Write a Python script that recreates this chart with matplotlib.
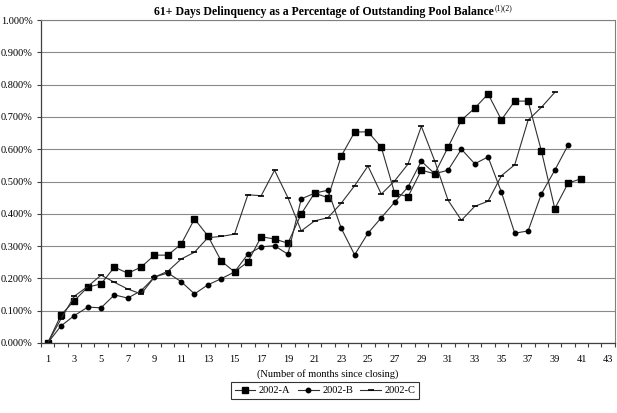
import matplotlib.pyplot as plt
import numpy as np

plt.rcParams['font.family'] = ['Liberation Serif', 'DejaVu Serif']

# 61+ day delinquency, % of outstanding pool balance, by month since closing
a_vals = [0.000, 0.087, 0.131, 0.173, 0.183, 0.235, 0.216, 0.235, 0.272, 0.272,
          0.306, 0.384, 0.332, 0.254, 0.220, 0.251, 0.329, 0.322, 0.309, 0.400,
          0.464, 0.450, 0.579, 0.653, 0.654, 0.606, 0.464, 0.453, 0.535, 0.524,
          0.606, 0.690, 0.727, 0.771, 0.691, 0.749, 0.749, 0.594, 0.416, 0.495,
          0.509]
b_vals = [0.000, 0.053, 0.085, 0.111, 0.109, 0.149, 0.139, 0.162, 0.204, 0.217,
          0.190, 0.152, 0.180, 0.199, 0.220, 0.275, 0.298, 0.301, 0.275, 0.446,
          0.464, 0.473, 0.355, 0.273, 0.340, 0.388, 0.436, 0.483, 0.563, 0.524,
          0.535, 0.600, 0.555, 0.576, 0.467, 0.340, 0.347, 0.462, 0.535, 0.613]
c_vals = [0.000, 0.075, 0.145, 0.175, 0.210, 0.188, 0.167, 0.152, 0.204, 0.222,
          0.260, 0.281, 0.326, 0.330, 0.337, 0.459, 0.456, 0.535, 0.450, 0.347,
          0.378, 0.388, 0.433, 0.487, 0.548, 0.461, 0.502, 0.554, 0.671, 0.564,
          0.442, 0.380, 0.423, 0.439, 0.518, 0.552, 0.690, 0.730, 0.776]
series_names = ['2002-A', '2002-B', '2002-C']
n_months = 43

fig = plt.figure(figsize=(6.17, 4.13), dpi=100)
ax = fig.add_axes([0.0665, 0.1695, 0.930, 0.782])

line_kw = dict(color='#303030', linewidth=0.8, markeredgecolor='black', markerfacecolor='black')
ax.plot(np.arange(1, len(a_vals) + 1), a_vals, marker='s', markersize=4.5, label=series_names[0], **line_kw)
ax.plot(np.arange(1, len(b_vals) + 1), b_vals, marker='o', markersize=3.2, label=series_names[1], **line_kw)
ax.plot(np.arange(1, len(c_vals) + 1), c_vals, marker='_', markersize=4.5, markeredgewidth=1.2,
        label=series_names[2], **line_kw)

# y axis
ax.set_ylim(0, 1.0)
yt = np.arange(0, 1.01, 0.1)
ax.set_yticks(yt)
ax.set_yticklabels([f"{v:.3f}%" for v in yt], fontsize=7.5)
ax.yaxis.grid(True, color='#8a8a8a', linewidth=0.8)
ax.set_axisbelow(True)
ax.tick_params(axis='y', length=3, width=0.8, color='#404040', pad=3)

# x axis: categories, ticks between them
ax.set_xlim(0.5, n_months + 0.5)
ax.set_xticks(np.arange(1, n_months + 1, 2))
ax.set_xticklabels([str(m) for m in range(1, n_months + 1, 2)], fontsize=7.5)
ax.set_xticks(np.arange(0.5, n_months + 1), minor=True)
ax.tick_params(axis='x', which='major', length=0, pad=9)
ax.tick_params(axis='x', which='minor', length=3, width=0.8, color='#404040')
ax.set_xlabel('(Number of months since closing)', fontsize=7.5, labelpad=3)

for side in ['left', 'bottom']:
    ax.spines[side].set_color('#404040')
    ax.spines[side].set_linewidth(0.9)
for side in ['top', 'right']:
    ax.spines[side].set_color('#808080')
    ax.spines[side].set_linewidth(0.8)

# title with a small non-bold superscript
title = fig.text(0.525, 0.972, '61+ Days Delinquency as a Percentage of Outstanding Pool Balance',
                 ha='center', va='center', fontsize=8.5, fontweight='bold')
fig.canvas.draw()
bb = title.get_window_extent().transformed(fig.transFigure.inverted())
fig.text(bb.x1 + 0.002, bb.y1 + 0.003, '(1)(2)', ha='left', va='top', fontsize=5.5)

leg = fig.legend(loc='center', bbox_to_anchor=(0.527, 0.054), ncol=3, fontsize=7.5,
                 frameon=True, fancybox=False, edgecolor='black', handlelength=2.0,
                 columnspacing=0.7, borderpad=0.35, handletextpad=0.35)
leg.get_frame().set_linewidth(0.8)

fig.savefig('out.png', dpi=100)
